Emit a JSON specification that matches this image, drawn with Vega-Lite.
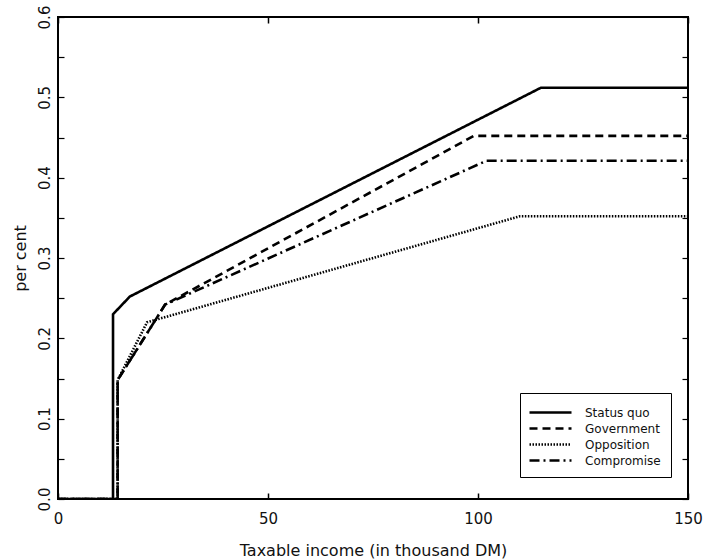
{
  "$schema": "https://vega.github.io/schema/vega-lite/v6.json",
  "autosize": {"type": "none"},
  "width": 630,
  "height": 482,
  "padding": {"left": 58, "top": 17, "right": 17, "bottom": 61},
  "background": "white",
  "config": {
    "view": {"stroke": "black", "strokeWidth": 2},
    "font": "DejaVu Sans",
    "axis": {"domain": false, "grid": false, "tickColor": "black", "labelColor": "#111", "titleColor": "#111", "labelFont": "DejaVu Sans", "titleFont": "DejaVu Sans", "titleFontWeight": "normal"}
  },
  "data": {
    "values": [
      {"series": "Status quo", "i": 0, "x": 0, "y": 0},
      {"series": "Status quo", "i": 1, "x": 13.1, "y": 0},
      {"series": "Status quo", "i": 2, "x": 13.1, "y": 0.230},
      {"series": "Status quo", "i": 3, "x": 17.1, "y": 0.252},
      {"series": "Status quo", "i": 4, "x": 115, "y": 0.512},
      {"series": "Status quo", "i": 5, "x": 150, "y": 0.512},
      {"series": "Government", "i": 0, "x": 0, "y": 0},
      {"series": "Government", "i": 1, "x": 14.2, "y": 0},
      {"series": "Government", "i": 2, "x": 14.2, "y": 0.148},
      {"series": "Government", "i": 3, "x": 25.5, "y": 0.242},
      {"series": "Government", "i": 4, "x": 99, "y": 0.452},
      {"series": "Government", "i": 5, "x": 150, "y": 0.452},
      {"series": "Opposition", "i": 0, "x": 0, "y": 0},
      {"series": "Opposition", "i": 1, "x": 14.2, "y": 0},
      {"series": "Opposition", "i": 2, "x": 14.2, "y": 0.148},
      {"series": "Opposition", "i": 3, "x": 21.2, "y": 0.220},
      {"series": "Opposition", "i": 4, "x": 110, "y": 0.352},
      {"series": "Opposition", "i": 5, "x": 150, "y": 0.352},
      {"series": "Compromise", "i": 0, "x": 0, "y": 0},
      {"series": "Compromise", "i": 1, "x": 14.2, "y": 0},
      {"series": "Compromise", "i": 2, "x": 14.2, "y": 0.148},
      {"series": "Compromise", "i": 3, "x": 25.5, "y": 0.242},
      {"series": "Compromise", "i": 4, "x": 102, "y": 0.421},
      {"series": "Compromise", "i": 5, "x": 150, "y": 0.421}
    ]
  },
  "layer": [
    {
      "mark": {"type": "line", "color": "black", "strokeCap": "butt", "strokeJoin": "miter", "clip": true},
      "encoding": {
        "x": {"field": "x", "type": "quantitative", "scale": {"domain": [0, 150], "nice": false},
          "axis": {"orient": "bottom", "values": [0, 50, 100, 150], "tickSize": -6, "tickWidth": 1.5, "labelPadding": 18, "labelFontSize": 15, "labelFlush": false, "title": "Taxable income (in thousand DM)", "titleFontSize": 16, "titlePadding": 16}},
        "y": {"field": "y", "type": "quantitative", "scale": {"domain": [0, 0.6], "nice": false},
          "axis": {"orient": "left", "values": [0, 0.05, 0.1, 0.15, 0.2, 0.25, 0.3, 0.35, 0.4, 0.45, 0.5, 0.55, 0.6], "labelExpr": "round(datum.value*20) % 2 == 0 ? format(datum.value, '.1f') : ''", "tickSize": -6, "tickWidth": 1.2, "labelPadding": 12, "labelAngle": 270, "labelAlign": "center", "labelBaseline": "bottom", "labelFontSize": 15, "labelFlush": false, "title": "per cent", "titleFontSize": 16, "titlePadding": 9}},
        "order": {"field": "i"},
        "strokeDash": {"field": "series", "type": "nominal",
          "scale": {"domain": ["Status quo", "Government", "Opposition", "Compromise"], "range": [[1, 0], [8, 5], [1.5, 1.5], [10, 4, 2, 4]]},
          "legend": {"title": null, "orient": "none", "legendX": 462, "legendY": 376, "strokeColor": "black", "padding": 10, "symbolType": "M-1.25,0H4", "symbolSize": 256, "symbolStrokeColor": "black", "symbolStrokeWidth": 2.5, "labelFontSize": 12, "labelOffset": 36, "rowPadding": -3, "labelFont": "DejaVu Sans", "labelColor": "#111", "fillColor": "white"}},
        "strokeWidth": {"field": "series", "type": "nominal",
          "scale": {"domain": ["Status quo", "Government", "Opposition", "Compromise"], "range": [2.6, 2.6, 1.6, 2.6]},
          "legend": null}
      }
    },
    {
      "mark": {"type": "line", "opacity": 0},
      "encoding": {
        "x": {"field": "x", "type": "quantitative", "scale": {"domain": [0, 150], "nice": false},
          "axis": {"orient": "top", "values": [0, 50, 100, 150], "tickSize": -6, "tickWidth": 1.5, "labels": false, "title": null}},
        "y": {"field": "y", "type": "quantitative", "scale": {"domain": [0, 0.6], "nice": false},
          "axis": {"orient": "right", "values": [0, 0.05, 0.1, 0.15, 0.2, 0.25, 0.3, 0.35, 0.4, 0.45, 0.5, 0.55, 0.6], "tickSize": -6, "tickWidth": 1.2, "labels": false, "title": null}},
        "detail": {"field": "series"}
      }
    }
  ],
  "resolve": {"scale": {"x": "independent", "y": "independent"}}
}
